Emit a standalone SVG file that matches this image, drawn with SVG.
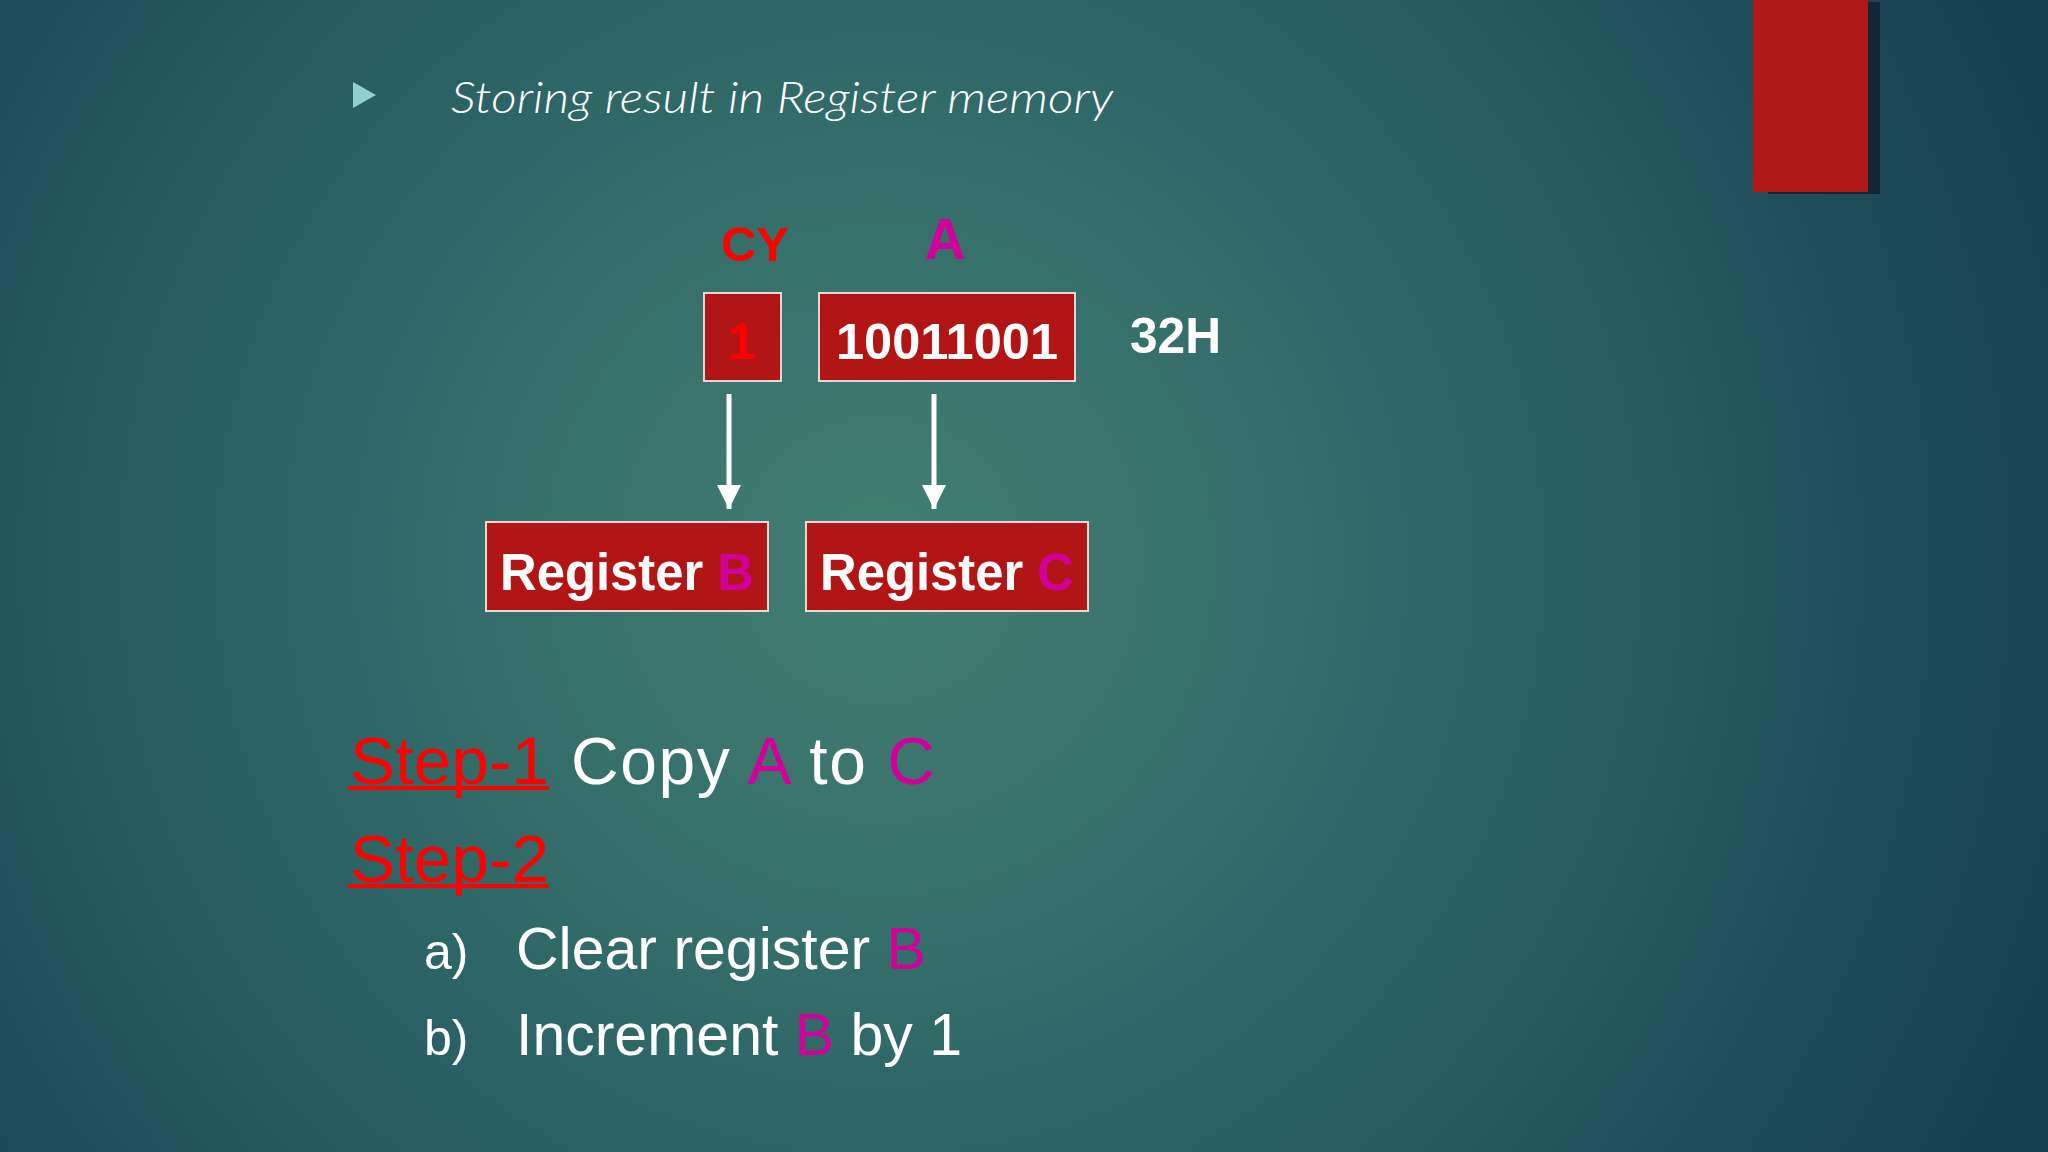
<svg xmlns="http://www.w3.org/2000/svg" width="2048" height="1152" viewBox="0 0 2048 1152">
  <defs>
    <radialGradient id="bg" cx="880" cy="560" r="1250" gradientUnits="userSpaceOnUse">
      <stop offset="0" stop-color="#437e72"/>
      <stop offset="0.35" stop-color="#336c69"/>
      <stop offset="0.7" stop-color="#23555f"/>
      <stop offset="1" stop-color="#163f4f"/>
    </radialGradient>
    <marker id="arrow" viewBox="0 0 24 24" refX="24" refY="12" markerWidth="24" markerHeight="24" markerUnits="userSpaceOnUse" orient="auto">
      <path d="M0,0 L24,12 L0,24 Z" fill="#ffffff"/>
    </marker>
    <style>
      .box { fill: #b11515; stroke: #ecd8d2; stroke-width: 2; }
      .bold { font-family: "Liberation Sans", Arial, sans-serif; font-weight: bold; }
      .reg { font-family: "Liberation Sans", Arial, sans-serif; }
      .white { fill: #ffffff; }
      .red { fill: #ff0000; }
      .pink { fill: #d1009b; }
      .conn { stroke: #ffffff; stroke-width: 5; fill: none; }
    </style>
  </defs>

  <rect x="0" y="0" width="2048" height="1152" fill="url(#bg)"/>

  <!-- top-right accent bar -->
  <rect x="1768" y="2" width="112" height="192" fill="#0f2833"/>
  <rect x="1753" y="0" width="115" height="192" fill="#b11818"/>

  <!-- title -->
  <g id="title">
    <polygon points="353,82 376,95 353,108" fill="#8fd0d4"/>
    <text x="451" y="113" font-family="Lato, 'Open Sans', sans-serif" font-weight="300" font-style="italic" font-size="43" fill="#ffffff" textLength="662" lengthAdjust="spacingAndGlyphs">Storing result in Register memory</text>
  </g>

  <!-- labels above boxes -->
  <g id="label-cy">
    <text x="755" y="261" class="bold red" font-size="49" text-anchor="middle">CY</text>
  </g>
  <g id="label-a">
    <text x="945" y="259" class="bold pink" font-size="57" text-anchor="middle">A</text>
  </g>

  <!-- top boxes -->
  <g id="box-cy">
    <rect x="704" y="293" width="77" height="88" class="box"/>
    <text x="742" y="359" class="bold red" font-size="50" text-anchor="middle">1</text>
  </g>
  <g id="box-a">
    <rect x="819" y="293" width="256" height="88" class="box"/>
    <text x="836" y="359" class="bold white" font-size="50" textLength="222" lengthAdjust="spacingAndGlyphs">10011001</text>
  </g>
  <g id="label-32h">
    <text x="1130" y="353" class="bold white" font-size="50" textLength="91" lengthAdjust="spacingAndGlyphs">32H</text>
  </g>

  <!-- connectors -->
  <g id="connectors">
    <line x1="729" y1="394" x2="729" y2="509" class="conn" marker-end="url(#arrow)"/>
    <line x1="934" y1="394" x2="934" y2="509" class="conn" marker-end="url(#arrow)"/>
  </g>

  <!-- bottom boxes -->
  <g id="register-b">
    <rect x="486" y="522" width="282" height="89" class="box"/>
    <text x="500" y="590" class="bold white" font-size="51" textLength="254" lengthAdjust="spacingAndGlyphs">Register <tspan class="pink">B</tspan></text>
  </g>
  <g id="register-c">
    <rect x="806" y="522" width="282" height="89" class="box"/>
    <text x="820" y="590" class="bold white" font-size="51" textLength="254" lengthAdjust="spacingAndGlyphs">Register <tspan class="pink">C</tspan></text>
  </g>

  <!-- steps -->
  <g id="step-1">
    <text x="350" y="784" class="reg red" font-size="66" textLength="199" lengthAdjust="spacingAndGlyphs">Step-1</text>
    <rect x="348" y="786" width="201" height="4" fill="#ff0000"/>
    <text x="571" y="784" class="reg white" font-size="66" textLength="364" lengthAdjust="spacing">Copy <tspan class="pink">A</tspan> to <tspan class="pink">C</tspan></text>
  </g>
  <g id="step-2">
    <text x="350" y="882" class="reg red" font-size="66" textLength="199" lengthAdjust="spacingAndGlyphs">Step-2</text>
    <rect x="348" y="884" width="201" height="4" fill="#ff0000"/>
  </g>
  <g id="step-2a">
    <text x="424" y="969" class="reg white" font-size="50">a)</text>
    <text x="516" y="969" class="reg white" font-size="59">Clear register <tspan class="pink">B</tspan></text>
  </g>
  <g id="step-2b">
    <text x="424" y="1055" class="reg white" font-size="50">b)</text>
    <text x="516" y="1055" class="reg white" font-size="59">Increment <tspan class="pink">B</tspan> by 1</text>
  </g>
</svg>
